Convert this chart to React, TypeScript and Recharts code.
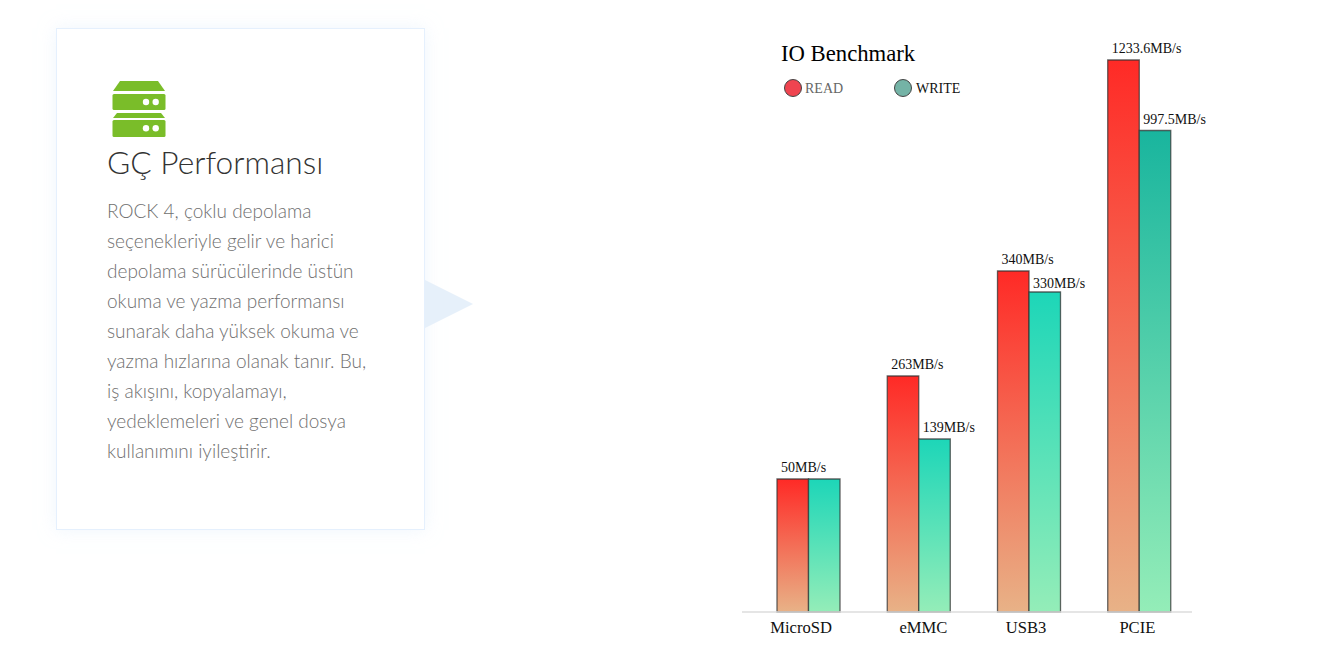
import { BarChart, Bar, XAxis, YAxis, Cell, Legend, LabelList } from 'recharts';

// drawn heights do not follow the printed speeds, so both are kept
const categories = ['MicroSD', 'eMMC', 'USB3', 'PCIE'];
const readValues = [133, 236, 341, 552];
const writeValues = [133, 173, 320, 481.5];
const readLabels = ['50MB/s', '263MB/s', '340MB/s', '1233.6MB/s'];
const writeLabels = ['', '139MB/s', '330MB/s', '997.5MB/s'];
const tickShift = [-7, 5, -2.5, -1.5];
const legendItems = [
  { name: 'READ', swatch: '#ef4450', text: '#666666', gap: 3 },
  { name: 'WRITE', swatch: '#74b3a6', text: '#111111', gap: 4 },
];
const paragraph = [
  'ROCK 4, çoklu depolama',
  'seçenekleriyle gelir ve harici',
  'depolama sürücülerinde üstün',
  'okuma ve yazma performansı',
  'sunarak daha yüksek okuma ve',
  'yazma hızlarına olanak tanır. Bu,',
  'iş akışını, kopyalamayı,',
  'yedeklemeleri ve genel dosya',
  'kullanımını iyileştirir.',
];

const data = categories.map((name, i) => ({
  name,
  read: readValues[i],
  write: writeValues[i],
  readLabel: readLabels[i],
  writeLabel: writeLabels[i],
}));

const serif = '"Liberation Serif", serif';

function ValueLabel(props: any) {
  const { x, y, value } = props;
  if (!value) return null;
  return (
    <text x={x + 4} y={y - 7} fontFamily={serif} fontSize={14} fill="#111">
      {value}
    </text>
  );
}

// the 330MB/s label sits closer to its bar than the others
function WriteLabel(props: any) {
  const { y, value } = props;
  return <ValueLabel {...props} y={value === '330MB/s' ? y + 3 : y} />;
}

function CategoryTick(props: any) {
  const { x, y, payload, index } = props;
  return (
    <text x={x + tickShift[index]} y={y + 13} textAnchor="middle" fontFamily={serif} fontSize={16.6} fill="#111">
      {payload.value}
    </text>
  );
}

function LegendRow() {
  return (
    <div style={{ position: 'relative', height: 20, fontFamily: serif, fontSize: 14 }}>
      {legendItems.map((item, i) => (
        <div key={item.name} style={{ position: 'absolute', left: i * 110, top: 0, display: 'flex', alignItems: 'center', height: 20 }}>
          <span
            style={{
              width: 18,
              height: 18,
              borderRadius: '50%',
              background: item.swatch,
              border: '1px solid #444',
              boxSizing: 'border-box',
              display: 'inline-block',
              marginRight: item.gap,
            }}
          />
          <span style={{ color: item.text, position: 'relative', top: 1 }}>{item.name}</span>
        </div>
      ))}
    </div>
  );
}

function InfoCard() {
  return (
    <div
      style={{
        position: 'absolute',
        left: 56,
        top: 28,
        width: 369,
        height: 502,
        boxSizing: 'border-box',
        border: '1px solid #e5f0fd',
        boxShadow: '0 0 16px rgba(225,238,252,0.55)',
        background: '#fff',
      }}
    >
      <svg style={{ position: 'absolute', left: 55, top: 52 }} width={54} height={57} viewBox="0 0 54 57">
        <path d="M8 0H46L53 10H1Z" fill="#7abd29" />
        <rect x={0.5} y={13} width={53} height={16} rx={1.5} fill="#7abd29" />
        <circle cx={34} cy={21} r={3.2} fill="#fff" />
        <circle cx={43.7} cy={21} r={3.2} fill="#fff" />
        <path d="M5 32H49L53 37H1Z" fill="#7abd29" />
        <rect x={0.5} y={39} width={53} height={17} rx={1.5} fill="#7abd29" />
        <circle cx={34} cy={47.3} r={3.2} fill="#fff" />
        <circle cx={43.7} cy={47.3} r={3.2} fill="#fff" />
      </svg>
      <div
        style={{
          position: 'absolute',
          left: 50,
          top: 114,
          fontFamily: 'Lato, sans-serif',
          fontWeight: 300,
          fontSize: 31.7,
          lineHeight: '38px',
          color: '#333',
          whiteSpace: 'nowrap',
        }}
      >
        GÇ Performansı
      </div>
      <div
        style={{
          position: 'absolute',
          left: 50,
          top: 167,
          fontFamily: 'Lato, sans-serif',
          fontWeight: 300,
          fontSize: 19,
          lineHeight: '30px',
          color: '#6f6f6f',
          whiteSpace: 'nowrap',
        }}
      >
        {paragraph.map((line) => (
          <div key={line}>{line}</div>
        ))}
      </div>
    </div>
  );
}

export default function App() {
  return (
    <div style={{ position: 'absolute', left: 0, top: 0, width: 1323, height: 650, overflow: 'hidden', background: '#fff' }}>
      <InfoCard />
      <svg style={{ position: 'absolute', left: 425, top: 280 }} width={49} height={48}>
        <path d="M0 0L48 24L0 48Z" fill="#e6f0fa" />
      </svg>
      <div style={{ position: 'absolute', left: 700, top: 0 }}>
        <BarChart
          width={560}
          height={650}
          data={data}
          margin={{ top: 12, right: 68, bottom: 8, left: 42 }}
          barSize={31.5}
          barGap={0}
        >
          <defs>
            <linearGradient id="readFill" x1="0" y1="0" x2="0" y2="1">
              <stop offset="0%" stopColor="#ff2a26" />
              <stop offset="100%" stopColor="#e8b287" />
            </linearGradient>
            <linearGradient id="writeFill" x1="0" y1="0" x2="0" y2="1">
              <stop offset="0%" stopColor="#1dd6b8" />
              <stop offset="100%" stopColor="#94edb8" />
            </linearGradient>
            <linearGradient id="writeFillDark" x1="0" y1="0" x2="0" y2="1">
              <stop offset="0%" stopColor="#19b59e" />
              <stop offset="100%" stopColor="#94edb8" />
            </linearGradient>
          </defs>
          <XAxis
            dataKey="name"
            height={30}
            padding={{ left: 11, right: -2 }}
            axisLine={{ stroke: '#dcdcdc', strokeWidth: 1.5 }}
            tickLine={false}
            tick={<CategoryTick />}
            interval={0}
          />
          <YAxis hide domain={[0, 600]} />
          <Legend
            layout="horizontal"
            verticalAlign="middle"
            content={<LegendRow />}
            wrapperStyle={{ position: 'absolute', left: 84, top: 78, width: 300, height: 20 }}
          />
          <Bar dataKey="read" name="READ" fill="url(#readFill)" stroke="#333" strokeOpacity={0.75} strokeWidth={1.3} isAnimationActive={false}>
            <LabelList dataKey="readLabel" content={<ValueLabel />} />
          </Bar>
          <Bar dataKey="write" name="WRITE" fill="url(#writeFill)" stroke="#333" strokeOpacity={0.75} strokeWidth={1.3} isAnimationActive={false}>
            {categories.map((name) => (
              <Cell key={name} fill={name === 'PCIE' ? 'url(#writeFillDark)' : 'url(#writeFill)'} />
            ))}
            <LabelList dataKey="writeLabel" content={<WriteLabel />} />
          </Bar>
          <text x={81} y={61} fontFamily={serif} fontSize={22.7} fill="#000">
            IO Benchmark
          </text>
        </BarChart>
      </div>
    </div>
  );
}
